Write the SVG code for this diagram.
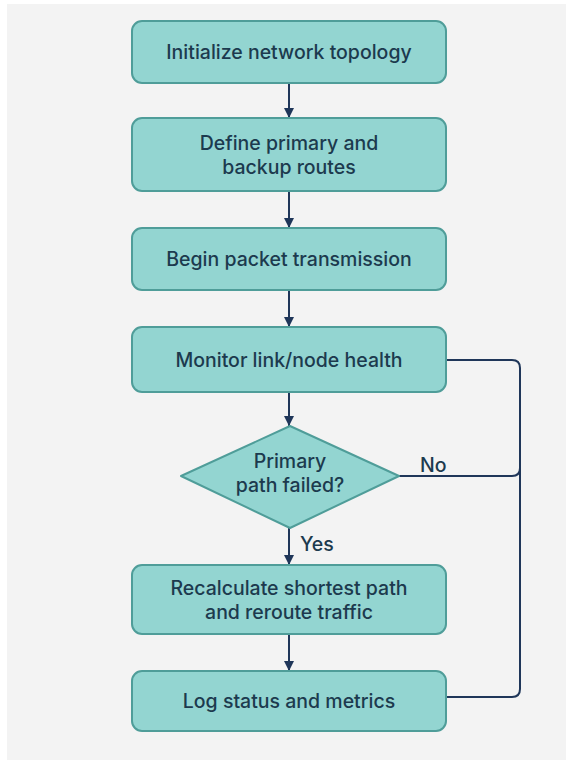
<svg xmlns="http://www.w3.org/2000/svg" width="566" height="764" viewBox="0 0 566 764">
<defs>
<style>
.box{fill:#93D5D1;stroke:#4F9D99;stroke-width:2}
.t{font-family:Inter,"Noto Sans","Liberation Sans",sans-serif;font-size:19.5px;font-weight:500;fill:#1C3A4E;text-anchor:middle}
.lbl{font-family:Inter,"Noto Sans","Liberation Sans",sans-serif;font-size:19.5px;font-weight:500;fill:#1C3A4E}
.ln{fill:none;stroke:#1F3659;stroke-width:2}
</style>
<marker id="ah" viewBox="0 0 10 10" refX="10" refY="5" markerWidth="10" markerHeight="10" markerUnits="userSpaceOnUse" orient="auto">
<path d="M0,0 L10,5 L0,10 z" fill="#1F3659"/>
</marker>
</defs>
<rect x="0" y="0" width="566" height="764" fill="#FFFFFF"/>
<rect x="7" y="4" width="559" height="756" fill="#F3F3F3"/>
<g id="connectors">
<path class="ln" d="M289,83 V118" marker-end="url(#ah)"/>
<path class="ln" d="M289,191 V228" marker-end="url(#ah)"/>
<path class="ln" d="M289,290 V327" marker-end="url(#ah)"/>
<path class="ln" d="M289,392 V426" marker-end="url(#ah)"/>
<path class="ln" d="M289,528 V565" marker-end="url(#ah)"/>
<path class="ln" d="M289,634 V671" marker-end="url(#ah)"/>
<path class="ln" d="M446,360 H512 Q520,360 520,368 V689 Q520,697 512,697 H446"/>
<path class="ln" d="M399,476 H512 Q520,476 520,468"/>
</g>
<g id="n1"><rect class="box" x="132" y="21" width="314" height="62" rx="10"/><text class="t" x="289" y="59">Initialize network topology</text></g>
<g id="n2"><rect class="box" x="132" y="118" width="314" height="73" rx="10"/><text class="t" x="289" y="150">Define primary and</text><text class="t" x="289" y="174">backup routes</text></g>
<g id="n3"><rect class="box" x="132" y="228" width="314" height="62" rx="10"/><text class="t" x="289" y="266">Begin packet transmission</text></g>
<g id="n4"><rect class="box" x="132" y="327" width="314" height="65" rx="10"/><text class="t" x="289" y="367">Monitor link/node health</text></g>
<g id="n5"><path class="box" d="M290,426 L399,476 L290,528 L181,476 Z" stroke-linejoin="round"/><text class="t" x="290" y="468">Primary</text><text class="t" x="290" y="492">path failed?</text></g>
<g id="n6"><rect class="box" x="132" y="565" width="314" height="69" rx="10"/><text class="t" x="289" y="595">Recalculate shortest path</text><text class="t" x="289" y="619">and reroute traffic</text></g>
<g id="n7"><rect class="box" x="132" y="671" width="314" height="60" rx="10"/><text class="t" x="289" y="708">Log status and metrics</text></g>
<g id="labels"><text class="lbl" x="420" y="472">No</text><text class="lbl" x="300" y="551">Yes</text></g>
</svg>
